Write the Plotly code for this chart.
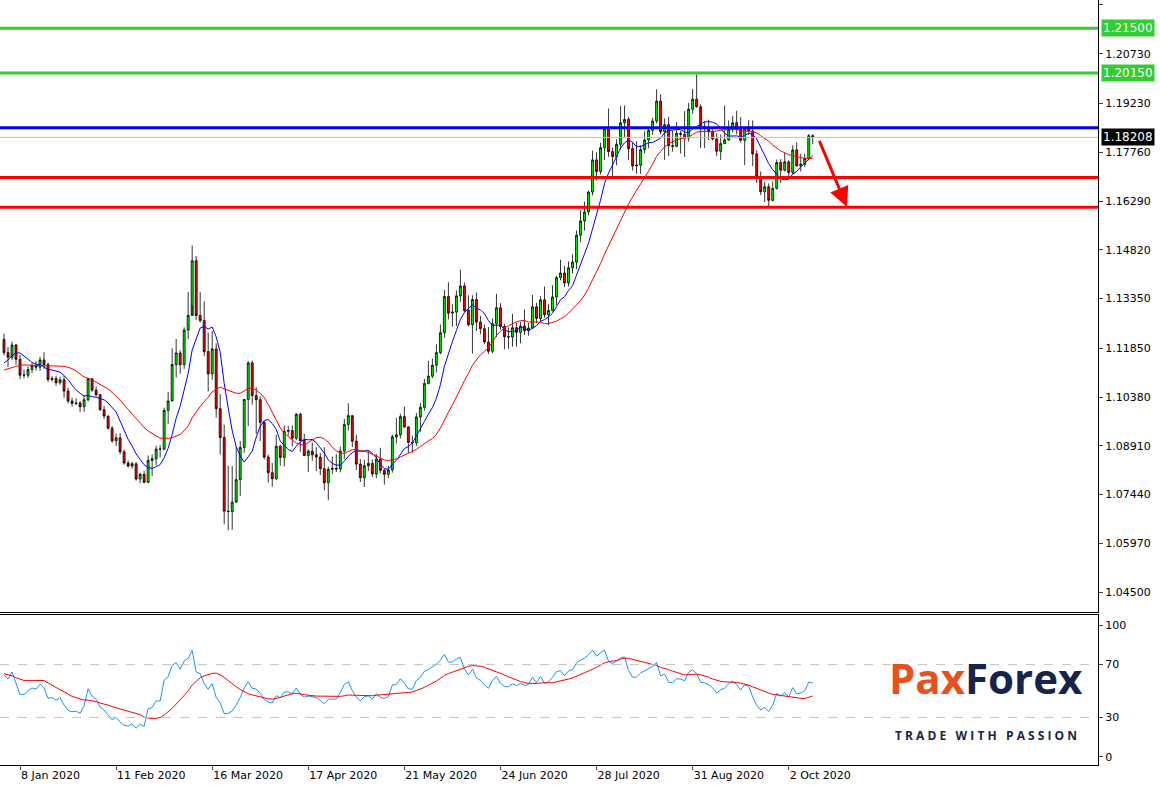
import numpy as np
import pandas as pd
import plotly.graph_objects as go

# December 2019 closes (warm-up for the moving averages / oscillator, left of the view)
warmup_close = [1.1078,1.1082,1.1077,1.1104,1.1059,1.1063,1.1091,1.1130,1.1130,1.1120,
                1.1143,1.1151,1.1113,1.1122,1.1078,1.1090,1.1087,1.1091,1.1101,1.1177,
                1.1199,1.1212]
open_first = 1.1212
close = [1.1172,1.1158,
1.1195,1.1152,1.1104,1.1104,1.1121,
1.1133,1.1128,1.1150,1.1136,1.1091,
1.1094,1.1081,1.1090,1.1056,1.1026,
1.1019,1.1020,1.1009,1.1030,1.1093,
1.1059,1.1045,1.1000,1.0981,1.0944,
1.0906,1.0915,1.0873,1.0839,1.0830,
1.0837,1.0791,1.0805,1.0781,1.0847,
1.0852,1.0881,1.0881,1.0998,1.1026,
1.1136,1.1171,1.1136,1.1240,1.1284,
1.1449,1.1284,1.1269,1.1175,1.1108,
1.1183,1.1003,1.0916,1.0694,1.0693,
1.0721,1.0789,1.0886,1.1031,1.1141,
1.1043,1.1030,1.0962,1.0857,1.0810,
1.0792,1.0890,1.0856,1.0935,1.0937,
1.0914,1.0986,1.0907,1.0862,1.0875,
1.0864,1.0857,1.0822,1.0780,1.0820,
1.0823,1.0821,1.0875,1.0955,1.0982,
1.0905,1.0836,1.0795,1.0831,1.0838,
1.0806,1.0851,1.0817,1.0805,1.0818,
1.0918,1.0924,1.0979,1.0948,1.0901,
1.0900,1.0978,1.1007,1.1079,1.1101,
1.1134,1.1172,1.1232,1.1341,1.1291,
1.1294,1.1343,1.1373,1.1299,1.1256,
1.1332,1.1264,1.1244,1.1204,1.1176,
1.1259,1.1307,1.1251,1.1220,1.1219,
1.1247,1.1233,1.1252,1.1238,1.1246,
1.1310,1.1275,1.1331,1.1286,1.1299,
1.1340,1.1398,1.1412,1.1382,1.1428,
1.1445,1.1526,1.1569,1.1596,1.1656,
1.1753,1.1718,1.1790,1.1847,1.1778,
1.1763,1.1800,1.1865,1.1875,1.1787,
1.1735,1.1737,1.1784,1.1813,1.1842,
1.1870,1.1930,1.1838,1.1859,1.1796,
1.1794,1.1833,1.1830,1.1819,1.1906,
1.1936,1.1913,1.1854,1.1850,1.1838,
1.1816,1.1779,1.1802,1.1813,1.1845,
1.1865,1.1845,1.1812,1.1848,1.1840,
1.1771,1.1703,1.1657,1.1672,1.1631,
1.1667,1.1745,1.1722,1.1747,1.1715,
1.1783,1.1735,1.1740,1.1757,1.1826,
1.18208]

high = [1.1229,1.1189,
1.1205,1.1198,1.1165,1.1121,1.1130,
1.1140,1.1147,1.1160,1.1173,1.1142,
1.1101,1.1102,1.1099,1.1102,1.1066,
1.1036,1.1034,1.1026,1.1042,1.1096,
1.1095,1.1070,1.1047,1.1011,1.0981,
1.0951,1.0928,1.0929,1.0880,1.0847,
1.0843,1.0841,1.0810,1.0815,1.0862,
1.0865,1.0891,1.0893,1.1006,1.1053,
1.1185,1.1213,1.1179,1.1248,1.1355,
1.1495,1.1463,1.1355,1.1327,1.1233,
1.1237,1.1200,1.1047,1.0955,1.0831,
1.0830,1.0888,1.0906,1.1032,1.1147,
1.1148,1.1068,1.1040,1.0965,1.0865,
1.0839,1.0924,1.0894,1.0952,1.0951,
1.0953,1.0990,1.0991,1.0927,1.0880,
1.0901,1.0887,1.0870,1.0887,1.0828,
1.0859,1.0866,1.0889,1.0972,1.1019,
1.0977,1.0925,1.0851,1.0849,1.0876,
1.0850,1.0866,1.0885,1.0822,1.0831,
1.0925,1.0975,1.0988,1.1009,1.0950,
1.0922,1.0990,1.1020,1.1093,1.1147,
1.1154,1.1197,1.1257,1.1361,1.1384,
1.1318,1.1359,1.1422,1.1383,1.1345,
1.1345,1.1353,1.1283,1.1256,1.1249,
1.1275,1.1349,1.1321,1.1259,1.1248,
1.1289,1.1262,1.1265,1.1302,1.1261,
1.1346,1.1322,1.1342,1.1371,1.1318,
1.1375,1.1403,1.1452,1.1433,1.1447,
1.1469,1.1540,1.1601,1.1627,1.1660,
1.1781,1.1776,1.1805,1.1853,1.1908,
1.1790,1.1815,1.1916,1.1917,1.1883,
1.1806,1.1809,1.1797,1.1839,1.1850,
1.1880,1.1966,1.1951,1.1878,1.1883,
1.1841,1.1867,1.1840,1.1900,1.1925,
1.1967,1.2011,1.1920,1.1869,1.1874,
1.1845,1.1833,1.1829,1.1917,1.1872,
1.1885,1.1901,1.1882,1.1851,1.1873,
1.1872,1.1782,1.1718,1.1687,1.1682,
1.1688,1.1754,1.1755,1.1775,1.1752,
1.1797,1.1806,1.1772,1.1772,1.1831,
1.1830]

low = [1.1163,1.1128,
1.1150,1.1135,1.1092,1.1094,1.1096,
1.1110,1.1118,1.1117,1.1123,1.1083,
1.1084,1.1072,1.1075,1.1036,1.1019,
1.1009,1.1013,1.0992,1.0993,1.1025,
1.1054,1.1040,1.0996,1.0972,1.0940,
1.0900,1.0890,1.0865,1.0834,1.0826,
1.0822,1.0786,1.0778,1.0778,1.0778,
1.0800,1.0832,1.0856,1.0878,1.0957,
1.1030,1.1097,1.1108,1.1123,1.1212,
1.1315,1.1271,1.1263,1.1161,1.1055,
1.1090,1.0976,1.0865,1.0654,1.0636,
1.0638,1.0727,1.0740,1.0870,1.0951,
1.1015,1.0927,1.0905,1.0850,1.0780,
1.0768,1.0788,1.0831,1.0829,1.0922,
1.0889,1.0908,1.0873,1.0860,1.0812,
1.0846,1.0815,1.0803,1.0757,1.0727,
1.0806,1.0812,1.0811,1.0851,1.0937,
1.0887,1.0818,1.0782,1.0767,1.0815,
1.0797,1.0793,1.0807,1.0774,1.0794,
1.0810,1.0898,1.0913,1.0945,1.0870,
1.0870,1.0891,1.0933,1.0997,1.1076,
1.1095,1.1112,1.1167,1.1217,1.1272,
1.1250,1.1252,1.1325,1.1293,1.1251,
1.1169,1.1237,1.1227,1.1197,1.1168,
1.1170,1.1219,1.1241,1.1182,1.1184,
1.1190,1.1190,1.1200,1.1226,1.1223,
1.1244,1.1261,1.1266,1.1277,1.1254,
1.1296,1.1316,1.1390,1.1370,1.1371,
1.1410,1.1424,1.1505,1.1540,1.1586,
1.1646,1.1691,1.1709,1.1753,1.1762,
1.1696,1.1737,1.1784,1.1819,1.1752,
1.1721,1.1711,1.1711,1.1773,1.1788,
1.1829,1.1863,1.1830,1.1753,1.1764,
1.1778,1.1791,1.1772,1.1762,1.1808,
1.1892,1.1911,1.1789,1.1789,1.1813,
1.1812,1.1765,1.1753,1.1801,1.1810,
1.1836,1.1830,1.1805,1.1737,1.1828,
1.1734,1.1683,1.1647,1.1626,1.1612,
1.1628,1.1664,1.1683,1.1718,1.1696,
1.1710,1.1733,1.1718,1.1731,1.1752,
1.1800]

tick_dates = ["2020-01-08","2020-02-11","2020-03-16","2020-04-17","2020-05-21",
              "2020-06-24","2020-07-28","2020-08-31","2020-10-02"]
tick_labels = ["8 Jan 2020","11 Feb 2020","16 Mar 2020","17 Apr 2020","21 May 2020",
               "24 Jun 2020","28 Jul 2020","31 Aug 2020","2 Oct 2020"]
price_ticks = [1.22200,1.20730,1.19230,1.17760,1.16290,1.14820,1.13350,1.11850,
               1.10380,1.08910,1.07440,1.05970,1.04500]
green_levels = [1.21500,1.20150]
blue_level = 1.18500
red_levels = [1.17000,1.16100]
last_price = 1.18208
osc_ticks = [100,70,30,0]

n = len(close)
nw = len(warmup_close)
opn = [open_first] + close[:-1]
dates = pd.bdate_range("2020-01-02", periods=n)
idx = np.arange(n)
date_pos = {d.strftime("%Y-%m-%d"): i for i, d in enumerate(dates)}
tickvals = [date_pos[d] for d in tick_dates]

cs = pd.Series(warmup_close + close)
ma_fast = cs.rolling(8).mean().iloc[nw:].values
ma_slow = cs.rolling(21).mean().iloc[nw:].values
delta = cs.diff()
gain = delta.clip(lower=0).ewm(alpha=1/14, adjust=False).mean()
loss = (-delta.clip(upper=0)).ewm(alpha=1/14, adjust=False).mean()
rsi_full = 100 - 100/(1+gain/loss)
rsi_ma = rsi_full.rolling(14).mean().iloc[nw:].values
rsi = rsi_full.iloc[nw:].values

fig = go.Figure()
fig.add_trace(go.Candlestick(x=idx, open=opn, high=high, low=low, close=close,
    increasing=dict(line=dict(color="black", width=0.8), fillcolor="#00ee00"),
    decreasing=dict(line=dict(color="black", width=0.8), fillcolor="#ff0000"),
    whiskerwidth=0, xaxis="x", yaxis="y", hoverinfo="skip"))
fig.add_trace(go.Scatter(x=idx, y=ma_fast, mode="lines", line=dict(color="#0000ff", width=1), xaxis="x", yaxis="y"))
fig.add_trace(go.Scatter(x=idx, y=ma_slow, mode="lines", line=dict(color="#ff0000", width=1), xaxis="x", yaxis="y"))
fig.add_trace(go.Scatter(x=idx, y=rsi, mode="lines", line=dict(color="#1e90ff", width=1), xaxis="x2", yaxis="y2"))
fig.add_trace(go.Scatter(x=idx, y=rsi_ma, mode="lines", line=dict(color="#ff0000", width=1), xaxis="x2", yaxis="y2"))

shapes = []
def hline(y, color, w, yref="y", dash="solid"):
    shapes.append(dict(type="line", xref="paper", x0=0, x1=1, yref=yref, y0=y, y1=y,
                       line=dict(color=color, width=w, dash=dash)))
hline(last_price, "#c0c0c0", 1)
for g in green_levels: hline(g, "#33cc33", 3)
hline(blue_level, "#0000ff", 3)
for r in red_levels: hline(r, "#ff0000", 3)
hline(70, "#c0c0c0", 1, "y2", "dash")
hline(30, "#c0c0c0", 1, "y2", "dash")
fig.update_layout(shapes=shapes)

ann = []
for g in green_levels:
    ann.append(dict(xref="paper", yref="y", x=1.003, y=g, xanchor="left", yanchor="middle",
        text="%.5f" % g, showarrow=False, bgcolor="#33cc33", font=dict(color="white", size=12, family="DejaVu Sans"), borderpad=1))
ann.append(dict(xref="paper", yref="y", x=1.003, y=last_price, xanchor="left", yanchor="middle",
    text="%.5f" % last_price, showarrow=False, bgcolor="black", font=dict(color="white", size=12, family="DejaVu Sans"), borderpad=1))
ann.append(dict(x=210.5, y=1.1612, ax=203.5, ay=1.1815, xref="x", yref="y", axref="x", ayref="y",
    showarrow=True, arrowcolor="#ff0000", arrowwidth=3, arrowhead=2, arrowsize=1.3, text=""))
ann.append(dict(xref="paper", yref="paper", x=0.898, y=0.114, xanchor="center", yanchor="middle", showarrow=False,
    text="<b><span style='color:#e8501c'>Pax</span><span style='color:#16244a'>Forex</span></b>",
    font=dict(size=42, family="Open Sans")))
ann.append(dict(xref="paper", yref="paper", x=0.898, y=0.038, xanchor="center", yanchor="middle", showarrow=False,
    text="<b>T R A D E   W I T H   P A S S I O N</b>", font=dict(size=12, color="#16244a", family="Open Sans")))
fig.update_layout(annotations=ann)

axfont = dict(family="DejaVu Sans", size=11, color="black")
xr = [-1, 273.25]
fig.update_layout(
    width=1160, height=785, margin=dict(l=0, r=62, t=0, b=20, autoexpand=False),
    paper_bgcolor="white", plot_bgcolor="white", showlegend=False,
    xaxis=dict(domain=[0, 1], anchor="y", range=xr, showticklabels=False, showgrid=False, zeroline=False,
               showline=True, linecolor="black", mirror=True, rangeslider=dict(visible=False), ticks="",
               automargin=False),
    yaxis=dict(domain=[0.2, 1], range=[1.0390, 1.2235], side="right", tickvals=price_ticks,
               ticktext=["%.5f" % p for p in price_ticks], ticks="outside", ticklen=4, showgrid=False,
               zeroline=False, showline=True, linecolor="black", mirror=True, tickfont=axfont, automargin=False),
    xaxis2=dict(domain=[0, 1], anchor="y2", range=xr, tickvals=tickvals, ticktext=tick_labels,
                ticks="outside", ticklen=4, ticklabelposition="outside right", showgrid=False,
                zeroline=False, showline=True, linecolor="black", mirror=True, tickfont=axfont, automargin=False),
    yaxis2=dict(domain=[0, 0.196], range=[-6.1, 107.6], side="right", tickvals=osc_ticks,
                ticks="outside", ticklen=4, showgrid=False, zeroline=False, showline=True,
                linecolor="black", mirror=True, tickfont=axfont, automargin=False),
)
fig.write_html("out.html", config={"displayModeBar": False},
               post_script="document.body.style.margin='0';document.body.style.overflow='hidden';")
